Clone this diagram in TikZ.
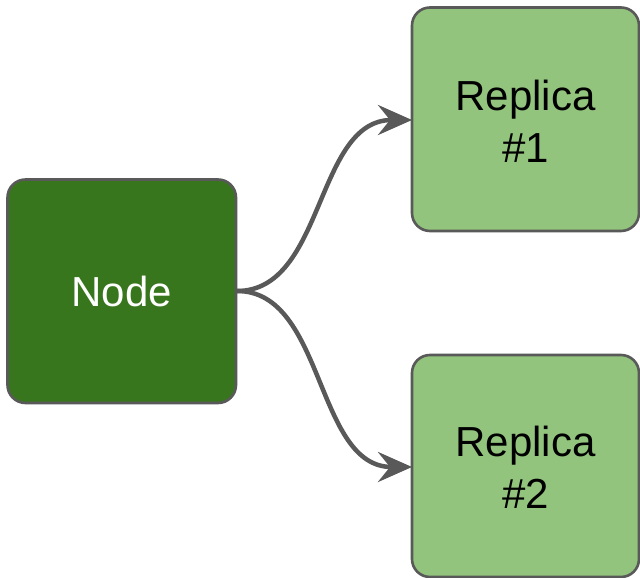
\documentclass[tikz,border=0pt]{standalone}
\usepackage{fontspec}
\setmainfont{Liberation Sans}
\usetikzlibrary{arrows.meta}
\begin{document}
\begin{tikzpicture}[x=1pt,y=-1pt,
  box/.style={draw=black!65, line width=2.6pt, rounded corners=18pt},
  conn/.style={draw=black!65, line width=4.5pt, -{Stealth[length=34pt,width=30pt,inset=12pt]}},
  lbl/.style={font=\fontsize{42}{52}\selectfont, align=center}]
\useasboundingbox (0,0) rectangle (640,578);
\fill[white] (0,0) rectangle (640,578);
\path[box, fill={rgb,255:red,56;green,118;blue,29}] (7.5,179.5) rectangle (236,403);
\path[box, fill={rgb,255:red,147;green,196;blue,125}] (412,7.5) rectangle (639,231);
\path[box, fill={rgb,255:red,147;green,196;blue,125}] (412,355) rectangle (639,577);
\node[lbl, text=white] (n) at (121.75,291) {Node};
\node[lbl] (r1) at (525.5,121) {Replica\\\#1};
\node[lbl] (r2) at (525.5,467) {Replica\\\#2};
\coordinate (s) at (237,291);
\coordinate (e1) at (412,120);
\coordinate (e2) at (412,467);
\draw[conn] (s) .. controls (325,291) and (315,120) .. (e1);
\draw[conn] (s) .. controls (325,291) and (315,467) .. (e2);
\end{tikzpicture}
\end{document}
